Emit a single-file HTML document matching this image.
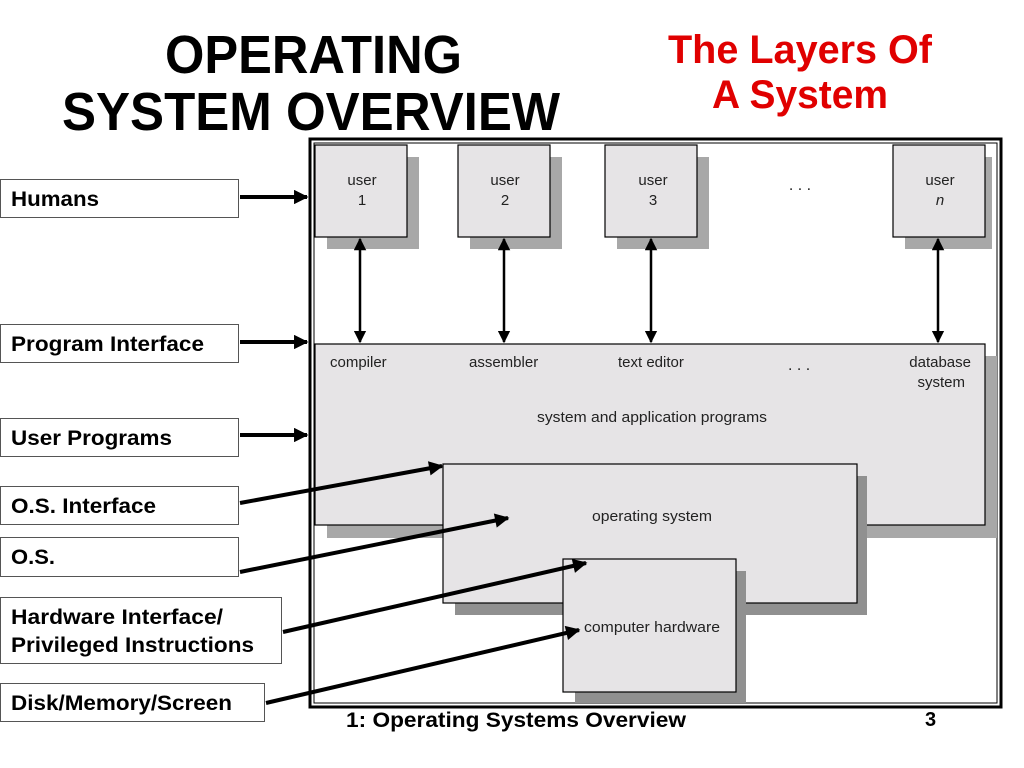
<!DOCTYPE html>
<html><head><meta charset="utf-8"><style>
body{margin:0;background:#fff;}
svg{display:block;font-family:"Liberation Sans",Arial,sans-serif;}
</style></head><body>
<svg width="1024" height="768" viewBox="0 0 1024 768" xmlns="http://www.w3.org/2000/svg">
<defs>
<marker id="ah" viewBox="0 0 10 10" refX="9" refY="5" markerWidth="4.5" markerHeight="3.6" orient="auto" markerUnits="strokeWidth"><path d="M0,0 L10,5 L0,10 z" fill="#000"/></marker>
<marker id="ah2" viewBox="0 0 10 10" refX="9" refY="5" markerWidth="5" markerHeight="5" orient="auto-start-reverse"><path d="M0,0 L10,5 L0,10 z" fill="#000"/></marker>
</defs>
<text x="165" y="73" font-size="54" font-weight="bold" textLength="297" lengthAdjust="spacingAndGlyphs">OPERATING</text>
<text x="62" y="130" font-size="54" font-weight="bold" textLength="498" lengthAdjust="spacingAndGlyphs">SYSTEM OVERVIEW</text>
<text x="668" y="63" font-size="40" font-weight="bold" fill="#e00000" textLength="264" lengthAdjust="spacingAndGlyphs">The Layers Of</text>
<text x="712" y="108" font-size="40" font-weight="bold" fill="#e00000" textLength="176" lengthAdjust="spacingAndGlyphs">A System</text>
<rect x="310" y="139" width="691" height="568" fill="#fff" stroke="#000" stroke-width="3"/>
<rect x="314" y="143" width="683" height="560" fill="none" stroke="#000" stroke-width="1"/>
<g>
<rect x="327" y="157" width="92" height="92" fill="#a8a8a8"/>
<rect x="315" y="145" width="92" height="92" fill="#e6e4e6" stroke="#000" stroke-width="1.2"/>
<rect x="470" y="157" width="92" height="92" fill="#a8a8a8"/>
<rect x="458" y="145" width="92" height="92" fill="#e6e4e6" stroke="#000" stroke-width="1.2"/>
<rect x="617" y="157" width="92" height="92" fill="#a8a8a8"/>
<rect x="605" y="145" width="92" height="92" fill="#e6e4e6" stroke="#000" stroke-width="1.2"/>
<rect x="905" y="157" width="87" height="92" fill="#a8a8a8"/>
<rect x="893" y="145" width="92" height="92" fill="#e6e4e6" stroke="#000" stroke-width="1.2"/>
</g>
<g font-size="15" fill="#222" text-anchor="middle">
<text x="362" y="185">user</text><text x="362" y="205">1</text>
<text x="505" y="185">user</text><text x="505" y="205">2</text>
<text x="653" y="185">user</text><text x="653" y="205">3</text>
<text x="940" y="185">user</text><text x="940" y="205" font-style="italic">n</text>
<text x="800" y="190" font-size="16">. . .</text>
</g>
<rect x="327" y="356" width="670" height="182" fill="#a8a8a8"/>
<rect x="315" y="344" width="670" height="181" fill="#e6e4e6" stroke="#000" stroke-width="1.2"/>
<g font-size="15" fill="#222">
<text x="330" y="367">compiler</text>
<text x="469" y="367">assembler</text>
<text x="618" y="367">text editor</text>
<text x="788" y="370" font-size="16">. . .</text>
<text x="971" y="367" text-anchor="end">database</text>
<text x="965" y="387" text-anchor="end">system</text>
<text x="537" y="422" textLength="230" lengthAdjust="spacingAndGlyphs">system and application programs</text>
</g>
<rect x="455" y="476" width="412" height="139" fill="#909090"/>
<rect x="443" y="464" width="414" height="139" fill="#e6e4e6" stroke="#000" stroke-width="1.2"/>
<text x="592" y="521" font-size="15" fill="#222" textLength="120" lengthAdjust="spacingAndGlyphs">operating system</text>
<rect x="575" y="571" width="171" height="132" fill="#909090"/>
<rect x="563" y="559" width="173" height="133" fill="#e6e4e6" stroke="#000" stroke-width="1.2"/>
<text x="584" y="632" font-size="15" fill="#222" textLength="136" lengthAdjust="spacingAndGlyphs">computer hardware</text>
<g stroke="#000" stroke-width="2.5" marker-start="url(#ah2)" marker-end="url(#ah2)">
<line x1="360" y1="239" x2="360" y2="342"/>
<line x1="504" y1="239" x2="504" y2="342"/>
<line x1="651" y1="239" x2="651" y2="342"/>
<line x1="938" y1="239" x2="938" y2="342"/>
</g>
<g fill="#fff" stroke="#555" stroke-width="1">
<rect x="0.5" y="179.5" width="238" height="38"/>
<rect x="0.5" y="324.5" width="238" height="38"/>
<rect x="0.5" y="418.5" width="238" height="38"/>
<rect x="0.5" y="486.5" width="238" height="38"/>
<rect x="0.5" y="537.5" width="238" height="39"/>
<rect x="0.5" y="597.5" width="281" height="66"/>
<rect x="0.5" y="683.5" width="264" height="38"/>
</g>
<g font-size="21" font-weight="bold" lengthAdjust="spacingAndGlyphs">
<text x="11" y="206" textLength="88" lengthAdjust="spacingAndGlyphs">Humans</text>
<text x="11" y="351" textLength="193" lengthAdjust="spacingAndGlyphs">Program Interface</text>
<text x="11" y="445" textLength="161" lengthAdjust="spacingAndGlyphs">User Programs</text>
<text x="11" y="513" textLength="145" lengthAdjust="spacingAndGlyphs">O.S. Interface</text>
<text x="11" y="564" textLength="44" lengthAdjust="spacingAndGlyphs">O.S.</text>
<text x="11" y="624" textLength="212" lengthAdjust="spacingAndGlyphs">Hardware Interface/</text>
<text x="11" y="652" textLength="243" lengthAdjust="spacingAndGlyphs">Privileged Instructions</text>
<text x="11" y="710" textLength="221" lengthAdjust="spacingAndGlyphs">Disk/Memory/Screen</text>
</g>
<g stroke="#000" stroke-width="4" marker-end="url(#ah)">
<line x1="240" y1="197" x2="307" y2="197"/>
<line x1="240" y1="342" x2="307" y2="342"/>
<line x1="240" y1="435" x2="307" y2="435"/>
<line x1="240" y1="503" x2="442" y2="466"/>
<line x1="240" y1="572" x2="508" y2="518"/>
<line x1="283" y1="632" x2="586" y2="563"/>
<line x1="266" y1="703" x2="579" y2="630"/>
</g>
<text x="346" y="727" font-size="21" font-weight="bold" textLength="340" lengthAdjust="spacingAndGlyphs">1: Operating Systems Overview</text>
<text x="925" y="726" font-size="20" font-weight="bold">3</text>
</svg>
</body></html>
